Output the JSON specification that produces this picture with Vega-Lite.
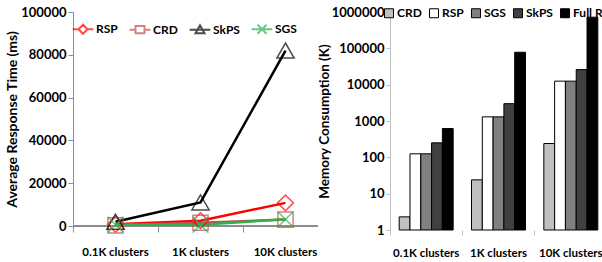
{
  "$schema": "https://vega.github.io/schema/vega-lite/v6.json",
  "padding": {"left": 5, "top": 6, "right": 0, "bottom": 0},
  "spacing": -11,
  "resolve": {"scale": {"color": "independent", "fill": "independent", "shape": "independent"}, "legend": {"color": "independent", "fill": "independent", "shape": "independent"}},
  "config": {
    "font": "Lato",
    "view": {"stroke": null},
    "axis": {"labelFont": "Lato", "titleFont": "Lato", "labelFontWeight": "bold", "titleFontWeight": "bold", "labelFontSize": 13, "titleFontSize": 13, "labelColor": "#000", "titleColor": "#000", "grid": false},
    "axisX": {"labelFontSize": 11.5},
    "legend": {"labelFont": "Lato", "labelFontWeight": "bold", "labelFontSize": 12, "labelColor": "#000"}
  },
  "hconcat": [
    {
      "width": 245,
      "height": 214,
      "data": {"values": [
        {"cluster": "0.1K clusters", "method": "RSP", "time": 800},
        {"cluster": "1K clusters", "method": "RSP", "time": 2500},
        {"cluster": "10K clusters", "method": "RSP", "time": 10800},
        {"cluster": "0.1K clusters", "method": "CRD", "time": 300},
        {"cluster": "1K clusters", "method": "CRD", "time": 1500},
        {"cluster": "10K clusters", "method": "CRD", "time": 3000},
        {"cluster": "0.1K clusters", "method": "SkPS", "time": 2000},
        {"cluster": "1K clusters", "method": "SkPS", "time": 11000},
        {"cluster": "10K clusters", "method": "SkPS", "time": 82000},
        {"cluster": "0.1K clusters", "method": "SGS", "time": 600},
        {"cluster": "1K clusters", "method": "SGS", "time": 600},
        {"cluster": "10K clusters", "method": "SGS", "time": 3100}
      ]},
      "encoding": {
        "x": {"field": "cluster", "type": "nominal", "sort": ["0.1K clusters", "1K clusters", "10K clusters"],
              "scale": {"type": "band", "range": [0, 255], "paddingInner": 0, "paddingOuter": 0},
              "axis": {"title": null, "labelAngle": 0, "domain": false, "bandPosition": 0, "tickColor": "#8c8c8c", "tickSize": 6, "labelPadding": 14}},
        "y": {"field": "time", "type": "quantitative", "scale": {"domain": [0, 100000], "nice": false},
              "axis": {"title": "Average Response  Time (ms)", "titleFontSize": 14, "values": [0, 20000, 40000, 60000, 80000, 100000], "format": "d", "tickColor": "#8c8c8c", "domainColor": "#8c8c8c", "tickSize": 5, "labelPadding": 2, "titlePadding": 1}}
      },
      "layer": [
        {
          "mark": {"type": "rule", "color": "#8c8c8c", "strokeWidth": 1},
          "encoding": {"x": null, "y": {"datum": 0, "type": "quantitative"}}
        },
        {
          "mark": {"type": "line", "strokeWidth": 2.5},
          "encoding": {"color": {"field": "method", "type": "nominal", "scale": {"domain": ["RSP", "CRD", "SkPS", "SGS"], "range": ["#ff0000", "#c0504d", "#000000", "#2db34a"]}}}
        },
        {
          "transform": [{"filter": "datum.method === 'RSP'"}],
          "mark": {"type": "point", "filled": false, "size": 250, "strokeWidth": 1.5, "shape": "diamond"},
          "encoding": {"color": {"field": "method", "type": "nominal"}}
        },
        {
          "transform": [{"filter": "datum.method === 'CRD'"}],
          "mark": {"type": "point", "filled": false, "size": 230, "strokeWidth": 1.5, "shape": "square"},
          "encoding": {"color": {"field": "method", "type": "nominal"}}
        },
        {
          "transform": [{"filter": "datum.method === 'SkPS'"}],
          "mark": {"type": "point", "filled": false, "size": 300, "strokeWidth": 1.5, "shape": "triangle-up"},
          "encoding": {"color": {"field": "method", "type": "nominal"}}
        },
        {
          "transform": [{"filter": "datum.method === 'SGS'"}],
          "mark": {"type": "point", "filled": false, "size": 250, "strokeWidth": 1.5, "shape": "M-1,-1L1,1M-1,1L1,-1"},
          "encoding": {"color": {"field": "method", "type": "nominal"}}
        },
        {
          "mark": {"type": "point", "filled": false, "opacity": 0, "size": 81},
          "encoding": {
            "color": {"field": "method", "type": "nominal",
                      "legend": {"title": null, "orient": "none", "legendX": 4, "legendY": 11, "direction": "horizontal", "columns": 4, "columnPadding": 7, "symbolSize": 81, "symbolStrokeWidth": 2, "symbolOpacity": 1, "labelOffset": 7,
                                 "encode": {"symbols": {"update": {"opacity": {"value": 1}}}}}},
            "shape": {"field": "method", "type": "nominal",
                      "scale": {"domain": ["RSP", "CRD", "SkPS", "SGS"], "range": ["M-2.3,0H-1M1,0H2.3M-1,0L0,-1L1,0L0,1Z", "M-2.3,0H-1M1,0H2.3M-1,-0.8H1V0.8H-1Z", "M-2.3,0H2.3M-1,0.8L0,-1L1,0.8Z", "M-2.3,0H2.3M-1,-1L1,1M-1,1L1,-1"]},
                      "legend": {"title": null, "orient": "none", "legendX": 4, "legendY": 11, "direction": "horizontal", "columns": 4, "columnPadding": 7, "symbolSize": 81, "symbolStrokeWidth": 2, "symbolOpacity": 1, "labelOffset": 7,
                                 "encode": {"symbols": {"update": {"opacity": {"value": 1}}}}}}
          }
        }
      ]
    },
    {
      "width": 217,
      "height": 218,
      "data": {"values": [
        {"cluster": "0.1K clusters", "method": "CRD", "mem": 2.3},
        {"cluster": "0.1K clusters", "method": "RSP", "mem": 125},
        {"cluster": "0.1K clusters", "method": "SGS", "mem": 125},
        {"cluster": "0.1K clusters", "method": "SkPS", "mem": 250},
        {"cluster": "0.1K clusters", "method": "Full Rep", "mem": 620},
        {"cluster": "1K clusters", "method": "CRD", "mem": 24},
        {"cluster": "1K clusters", "method": "RSP", "mem": 1300},
        {"cluster": "1K clusters", "method": "SGS", "mem": 1300},
        {"cluster": "1K clusters", "method": "SkPS", "mem": 3000},
        {"cluster": "1K clusters", "method": "Full Rep", "mem": 78000},
        {"cluster": "10K clusters", "method": "CRD", "mem": 240},
        {"cluster": "10K clusters", "method": "RSP", "mem": 12500},
        {"cluster": "10K clusters", "method": "SGS", "mem": 12500},
        {"cluster": "10K clusters", "method": "SkPS", "mem": 26000},
        {"cluster": "10K clusters", "method": "Full Rep", "mem": 720000}
      ]},
      "mark": {"type": "bar", "stroke": "#000000", "strokeWidth": 1},
      "encoding": {
        "x": {"field": "cluster", "type": "nominal", "sort": ["0.1K clusters", "1K clusters", "10K clusters"],
              "scale": {"paddingInner": 0, "paddingOuter": 0},
              "axis": {"title": null, "labelAngle": 0, "domain": false, "bandPosition": 0, "tickColor": "#c0c0c0", "tickSize": 5, "labelPadding": 12}},
        "xOffset": {"field": "method", "type": "nominal", "sort": ["CRD", "RSP", "SGS", "SkPS", "Full Rep"], "scale": {"paddingInner": 0, "paddingOuter": 0.85}},
        "y": {"field": "mem", "type": "quantitative", "scale": {"type": "log", "domain": [1, 1000000], "nice": false},
              "axis": {"title": "Memory Consumption (K)", "titleFontSize": 13.5, "values": [1, 10, 100, 1000, 10000, 100000, 1000000], "format": "d", "tickColor": "#c0c0c0", "domainColor": "#c0c0c0", "tickSize": 4, "labelPadding": 2, "titlePadding": 0}},
        "y2": {"datum": 1},
        "fill": {"field": "method", "type": "nominal",
                 "scale": {"domain": ["CRD", "RSP", "SGS", "SkPS", "Full Rep"], "range": ["#c0c0c0", "#ffffff", "#808080", "#404040", "#000000"]},
                 "legend": {"title": null, "orient": "none", "legendX": -7, "legendY": -5, "direction": "horizontal", "columns": 5, "columnPadding": 5, "symbolType": "square", "symbolSize": 81, "symbolStrokeColor": "#000000", "symbolStrokeWidth": 1, "labelOffset": 2}}
      }
    }
  ]
}
